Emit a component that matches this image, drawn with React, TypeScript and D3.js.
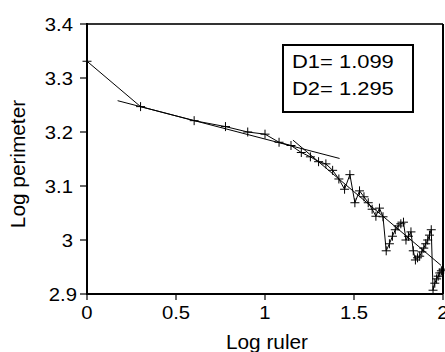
import React from "react";
import * as d3 from "d3";

const logRuler = [
  0, 0.301, 0.602, 0.778, 0.903, 1.0, 1.079, 1.146, 1.204, 1.255, 1.301, 1.342,
  1.38, 1.415, 1.447, 1.477, 1.505, 1.531, 1.556, 1.58, 1.602, 1.623, 1.643,
  1.663, 1.681, 1.699, 1.716, 1.732, 1.748, 1.763, 1.778, 1.792, 1.806, 1.82,
  1.833, 1.845, 1.857, 1.869, 1.881, 1.892, 1.903, 1.914, 1.924, 1.934, 1.944,
  1.954, 1.964, 1.973, 1.982, 1.991, 2.0,
];
const logPerimeter = [
  3.331, 3.247, 3.221, 3.21, 3.2, 3.196, 3.181, 3.175, 3.162, 3.154, 3.145,
  3.141, 3.129, 3.113, 3.094, 3.121, 3.069, 3.091, 3.08, 3.069, 3.057, 3.044,
  3.059, 3.043, 2.98, 2.993, 3.007, 3.019, 3.026, 3.03, 3.033, 3.0, 3.007,
  3.015, 2.98, 2.963, 2.967, 2.97, 2.978, 2.985, 2.993, 3.0, 3.009, 3.019,
  2.907, 2.92, 2.928, 2.933, 2.939, 2.943, 2.946,
];
const fitD1X = [0.172, 1.419];
const fitD1Y = [3.258, 3.151];
const fitD2X = [1.157, 1.989];
const fitD2Y = [3.185, 2.953];
const xTicks = [0, 0.5, 1, 1.5, 2];
const yTicks = [2.9, 3.0, 3.1, 3.2, 3.3, 3.4];
const legendLines = ["D1= 1.099", "D2= 1.295"];

export default function App() {
  const W = 445;
  const H = 352;
  const x = d3.scaleLinear().domain([0, 2]).range([87, 443]);
  const y = d3.scaleLinear().domain([2.9, 3.4]).range([294, 24]);
  const pts = logRuler.map((v, i) => [v, logPerimeter[i]] as [number, number]);
  const line = d3
    .line<[number, number]>()
    .x((d) => x(d[0]))
    .y((d) => y(d[1]));
  const fit1 = fitD1X.map((v, i) => [v, fitD1Y[i]] as [number, number]);
  const fit2 = fitD2X.map((v, i) => [v, fitD2Y[i]] as [number, number]);
  const font = "'Liberation Sans', Arial, sans-serif";
  const cs = 4.5;
  const tickSX = 1.09;
  const legSX = 1.18;
  return (
    <svg
      width={W}
      height={H}
      style={{ position: "absolute", left: 0, top: 0, background: "#fff" }}
      fontFamily={font}
    >
      <rect x={0} y={0} width={W} height={H} fill="#fff" />
      {/* frame */}
      <line x1={x(0)} x2={x(2)} y1={y(3.4)} y2={y(3.4)} stroke="#333" strokeWidth={2} />
      <line x1={x(2)} x2={x(2)} y1={y(3.4)} y2={y(2.9)} stroke="#000" strokeWidth={2} />
      <line x1={x(0)} x2={x(0)} y1={y(3.4) - 1} y2={y(2.9) + 1} stroke="#000" strokeWidth={2} />
      <line x1={x(0) - 1} x2={x(2)} y1={y(2.9)} y2={y(2.9)} stroke="#000" strokeWidth={2} />
      {/* y ticks */}
      {yTicks.map((t, i) => (
        <g key={"y" + t}>
          <line x1={x(0) - 7} x2={x(0)} y1={y(t)} y2={y(t)} stroke="#000" strokeWidth={1.2} />
          <text
            transform={`translate(${x(0) - 14 + (i === 0 ? 4 : 0)},${y(t)}) scale(${tickSX},1)`}
            dy="0.35em"
            textAnchor="end"
            fontSize={18.6}
            fill="#000"
          >
            {String(t)}
          </text>
        </g>
      ))}
      {/* x ticks */}
      {xTicks.map((t) => (
        <g key={"x" + t}>
          <line x1={x(t)} x2={x(t)} y1={y(2.9)} y2={y(2.9) + 6} stroke="#000" strokeWidth={1.2} />
          <text
            transform={`translate(${x(t)},319) scale(${tickSX},1)`}
            textAnchor="middle"
            fontSize={18.6}
            fill="#000"
          >
            {String(t)}
          </text>
        </g>
      ))}
      {/* axis titles */}
      <text
        transform={`translate(267,349) scale(1.04,1)`}
        textAnchor="middle"
        fontSize={20}
        fill="#000"
      >
        Log ruler
      </text>
      <text
        transform={`translate(25,${164}) rotate(-90) scale(1.04,1)`}
        textAnchor="middle"
        fontSize={20}
        fill="#000"
      >
        Log perimeter
      </text>
      {/* fit lines */}
      <path d={line(fit1) || ""} fill="none" stroke="#000" strokeWidth={1} />
      <path d={line(fit2) || ""} fill="none" stroke="#000" strokeWidth={1} />
      {/* data */}
      <path d={line(pts) || ""} fill="none" stroke="#000" strokeWidth={1} />
      {pts.map((d, i) => (
        <g key={"p" + i} stroke="#000" strokeWidth={1}>
          <line x1={x(d[0]) - cs} x2={x(d[0]) + cs} y1={y(d[1])} y2={y(d[1])} />
          <line x1={x(d[0])} x2={x(d[0])} y1={y(d[1]) - cs} y2={y(d[1]) + cs} />
        </g>
      ))}
      {/* legend box */}
      <rect x={283} y={45} width={130} height={67} fill="#fff" stroke="#000" strokeWidth={2} />
      {legendLines.map((s, i) => (
        <text
          key={s}
          transform={`translate(292,${68 + i * 27}) scale(${legSX},1)`}
          fontSize={18.6}
          fill="#000"
        >
          {s}
        </text>
      ))}
    </svg>
  );
}
